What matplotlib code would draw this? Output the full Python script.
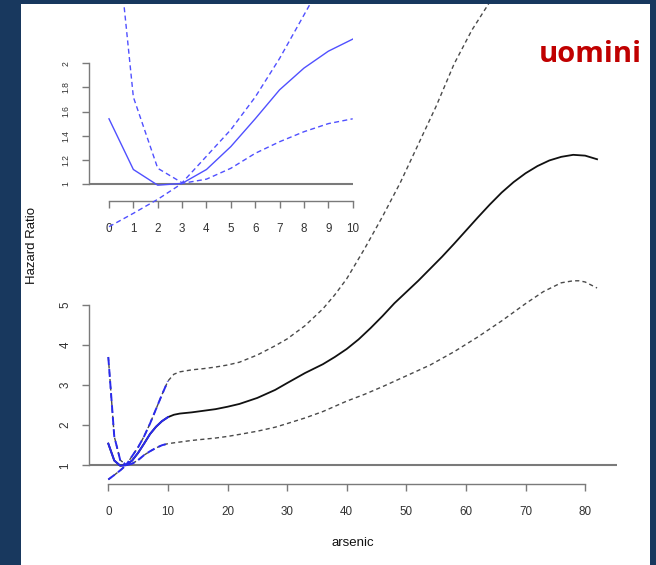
import matplotlib
matplotlib.use("Agg")
import matplotlib.pyplot as plt
from matplotlib.patches import Rectangle

plt.rcParams['font.family'] = ['Liberation Sans', 'DejaVu Sans']

# ---------------- data ----------------
# inset (arsenic 0..10)
inset_x = [0, 1, 2, 3, 4, 5, 6, 7, 8, 9, 10]
inset_hr = [1.54, 1.12, 0.99, 1.005, 1.12, 1.31, 1.54, 1.78, 1.96, 2.10, 2.20]
inset_upper = [3.70, 1.72, 1.13, 1.01, 1.23, 1.45, 1.72, 2.04, 2.40, 2.76, 3.10]
inset_lower = [0.646, 0.757, 0.873, 1.005, 1.04, 1.13, 1.254, 1.35, 1.433, 1.50, 1.54]

# main curve (arsenic 0..82)
main_x = [0, 1, 2, 3, 4, 5, 6, 7, 8, 9, 10, 11, 12, 14, 16, 18, 20, 22, 25, 28,
          30, 33, 36, 38, 40, 42, 44, 46, 48, 50, 52, 54, 56, 58, 60, 62, 64, 66,
          68, 70, 72, 74, 76, 78, 80, 82]
main_hr = [1.54, 1.12, 0.99, 1.005, 1.12, 1.31, 1.54, 1.78, 1.96, 2.10, 2.20, 2.26,
           2.29, 2.32, 2.36, 2.40, 2.46, 2.53, 2.68, 2.88, 3.05, 3.30, 3.52, 3.70,
           3.90, 4.14, 4.42, 4.72, 5.04, 5.32, 5.60, 5.90, 6.20, 6.52, 6.85, 7.18,
           7.50, 7.80, 8.06, 8.28, 8.46, 8.60, 8.69, 8.74, 8.72, 8.63]
upper_x = [0, 1, 2, 3, 4, 5, 6, 7, 8, 9, 10, 11, 12, 14, 16, 18, 20, 22, 25, 28,
           30, 33, 36, 38, 40, 43, 46, 49, 52, 55, 58, 61, 64, 65]
upper_hr = [3.70, 1.72, 1.13, 1.01, 1.23, 1.45, 1.72, 2.04, 2.40, 2.76, 3.10, 3.27,
            3.33, 3.38, 3.41, 3.45, 3.50, 3.57, 3.75, 3.98, 4.15, 4.48, 4.90, 5.25,
            5.65, 6.40, 7.20, 8.05, 9.00, 9.95, 11.0, 11.85, 12.55, 12.80]
lower_x = [0, 1, 2, 3, 4, 5, 6, 7, 8, 9, 10, 11, 12, 14, 16, 18, 20, 22, 25, 28,
           30, 33, 36, 40, 43, 46, 50, 54, 58, 62, 66, 70, 73, 76, 78, 79, 80, 82]
lower_hr = [0.646, 0.757, 0.873, 1.005, 1.04, 1.13, 1.254, 1.35, 1.433, 1.50, 1.54,
            1.56, 1.58, 1.62, 1.65, 1.68, 1.72, 1.77, 1.85, 1.95, 2.04, 2.18, 2.34,
            2.60, 2.77, 2.96, 3.23, 3.50, 3.83, 4.20, 4.60, 5.03, 5.33, 5.55, 5.60,
            5.60, 5.57, 5.42]

main_xticks = [0, 10, 20, 30, 40, 50, 60, 70, 80]
main_yticks = [1, 2, 3, 4, 5]
inset_xticks = [0, 1, 2, 3, 4, 5, 6, 7, 8, 9, 10]
inset_yticks = [1, 1.2, 1.4, 1.6, 1.8, 2]
inset_ylabels = ['1', '1.2', '1.4', '1.6', '1.8', '2']

# ---------------- figure ----------------
W, H = 656, 565
fig = plt.figure(figsize=(W / 100, H / 100), dpi=100, facecolor='#18385e')
fig.patches.append(Rectangle((21 / W, 0), (650 - 21) / W, (H - 4) / H,
                             transform=fig.transFigure, facecolor='white',
                             edgecolor='none', zorder=-10))


def box(l, t, r, b):
    return [l / W, 1 - b / H, (r - l) / W, (b - t) / H]


AX_COL = '#7a7a7a'
TXT_COL = '#333333'
GRAY_D = '#4a4a4a'

# ---- main axes ----
ax = fig.add_axes(box(88.75, 4, 616.6, 484))
ax.set_zorder(1)
ax.patch.set_visible(False)
ax.set_xlim(-3.28, 85.28)
ax.set_ylim(0.534, 12.50)
for s in ['top', 'right']:
    ax.spines[s].set_visible(False)
ax.spines['left'].set_bounds(1, 5)
ax.spines['bottom'].set_bounds(0, 80)
for s in ['left', 'bottom']:
    ax.spines[s].set_color(AX_COL)
    ax.spines[s].set_linewidth(1.0)
ax.set_xticks(main_xticks)
ax.set_yticks(main_yticks)
ax.set_yticklabels([str(v) for v in main_yticks], rotation=90, va='center')
ax.tick_params(axis='x', direction='out', length=5, width=1.0, color=AX_COL,
               labelcolor=TXT_COL, labelsize=8.4, pad=10.5)
ax.tick_params(axis='y', direction='out', length=5, width=1.0, color=AX_COL,
               labelcolor=TXT_COL, labelsize=8.4, pad=7.5)

ax.axhline(1, color=AX_COL, lw=1.5, zorder=1)
ax.plot(main_x, main_hr, color='#111111', lw=1.3, zorder=3)
ax.plot(upper_x, upper_hr, color=GRAY_D, lw=1.0, ls=(0, (3, 2.3)), zorder=3)
ax.plot(lower_x, lower_hr, color=GRAY_D, lw=1.0, ls=(0, (3, 2.3)), zorder=3)
# blue overlay 0..10
ax.plot(inset_x, inset_hr, color='#2a2aee', lw=1.4, zorder=4)
ax.plot(inset_x, inset_upper, color='#2a2aee', lw=1.4, ls=(0, (4.1, 2.1)), zorder=4)
ax.plot(inset_x, inset_lower, color='#2a2aee', lw=1.4, ls=(0, (4.1, 2.1)), zorder=4)

# ---- inset axes ----
ai = fig.add_axes(box(89.3, 4, 352.7, 240))
ai.set_zorder(2)
ai.patch.set_visible(False)
ai.set_xlim(-0.808, 10.0)
ai.set_ylim(0.536, 2.491)
for s in ['top', 'right']:
    ai.spines[s].set_visible(False)
ai.spines['bottom'].set_position(('data', 0.862))
ai.spines['bottom'].set_bounds(0, 10)
ai.spines['left'].set_bounds(1, 2)
for s in ['left', 'bottom']:
    ai.spines[s].set_color(AX_COL)
    ai.spines[s].set_linewidth(1.0)
ai.set_xticks(inset_xticks)
ai.set_yticks(inset_yticks)
ai.set_yticklabels(inset_ylabels, rotation=90, va='center')
ai.tick_params(axis='x', direction='out', length=5, width=1.0, color=AX_COL,
               labelcolor=TXT_COL, labelsize=8.4, pad=11)
ai.tick_params(axis='y', direction='out', length=5, width=1.0, color=AX_COL,
               labelcolor=TXT_COL, labelsize=6.2, pad=8.5)
ai.axhline(1, color=AX_COL, lw=1.5, zorder=1)
ai.plot(inset_x, inset_hr, color='#5050ff', lw=1.0, zorder=3)
ai.plot(inset_x, inset_upper, color='#5050ff', lw=1.0, ls=(0, (3.6, 2.4)), zorder=3)
ai.plot(inset_x, inset_lower, color='#5050ff', lw=1.0, ls=(0, (3.6, 2.4)), zorder=3)

# ---- labels ----
fig.text(32 / W, 1 - 245 / H, 'Hazard Ratio', rotation=90, ha='center', va='center',
         fontsize=9.5, color='#111111')
fig.text(352.7 / W, 1 - 543 / H, 'arsenic', ha='center', va='center',
         fontsize=9.5, color='#111111')
fig.text(590.5 / W, 1 - 62.3 / H, 'uomini', ha='center', va='baseline',
         fontsize=21, fontweight='bold', color='#c00000', family='Open Sans')

fig.savefig('out.png', dpi=100, facecolor=fig.get_facecolor())
